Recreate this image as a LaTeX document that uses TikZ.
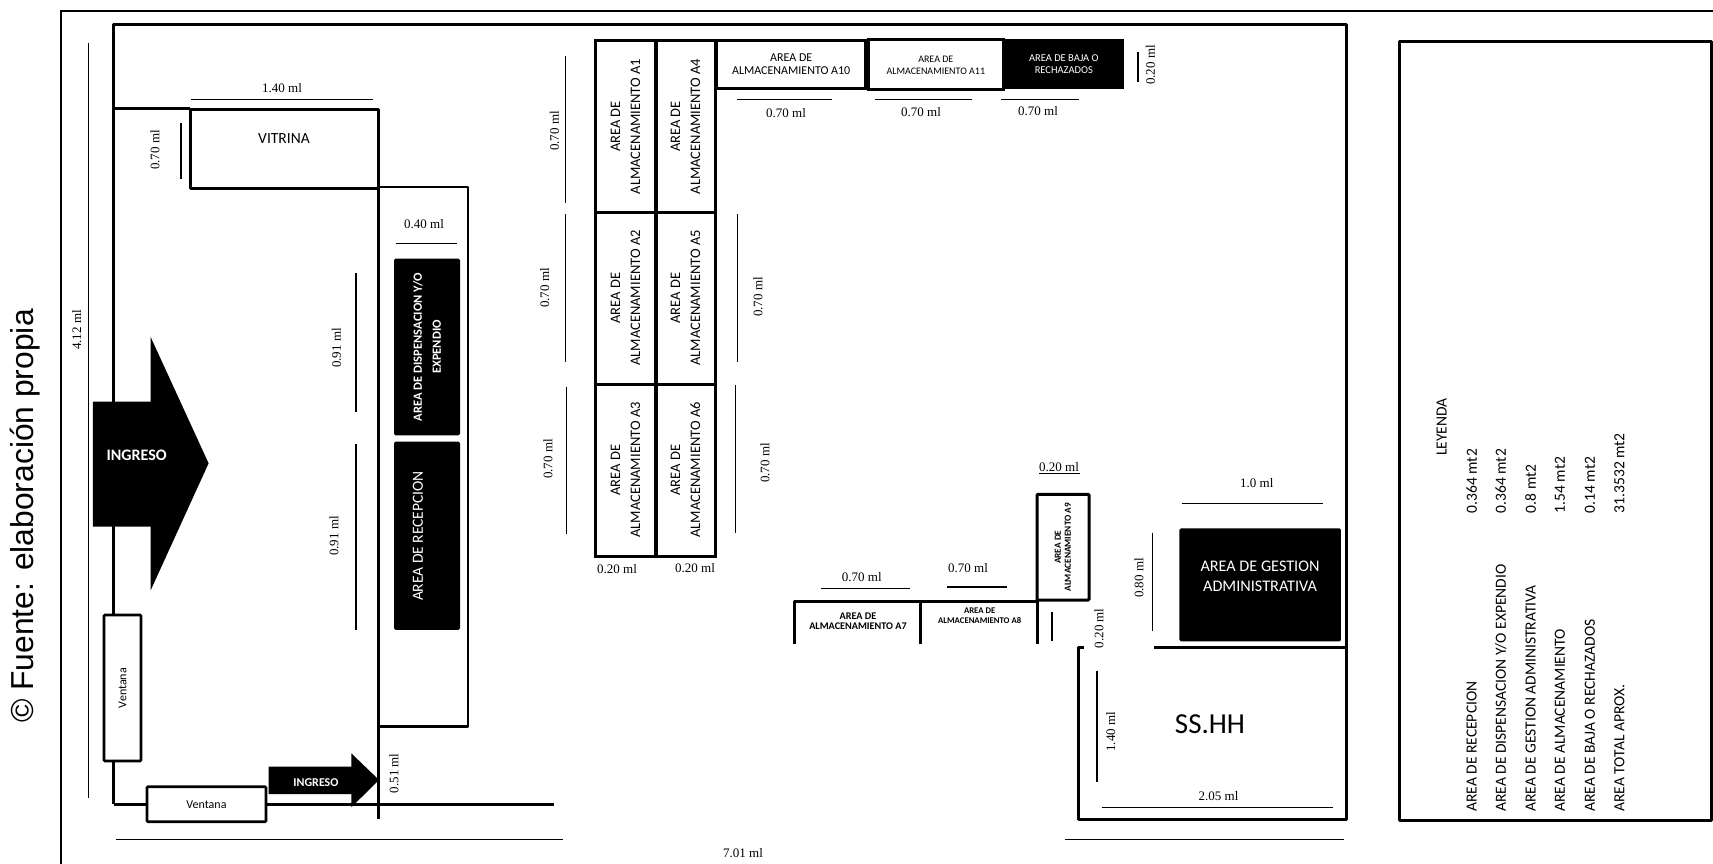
\documentclass[tikz,border=0pt]{standalone}
\usepackage{xcolor}
\usepackage{fontspec}
\setmainfont{Carlito}
\newfontfamily\sourcefont{Liberation Sans}
\newfontfamily\dimfont{Liberation Serif}
\usepackage{tikz}

\begin{document}
\begin{tikzpicture}[
    x=1pt, y=-1pt,
    every node/.style={align=center, inner sep=0pt},
    wall/.style={draw=black, line width=3pt, line join=round},
    thinwall/.style={draw=black, line width=2.8pt, line join=round},
    dimline/.style={draw=black, line width=1.2pt},
    dimtxt/.style={font=\dimfont\fontsize{13}{15}\selectfont},
    stock/.style={draw=black, fill=white, line width=3pt, rotate=90, font=\fontsize{14.5}{20}\selectfont},
    stockside/.style={draw=black, fill=white, line width=3pt, font=\fontsize{12}{12.5}\selectfont},
    blackbox/.style={fill=black, rounded corners=1.5pt, text=white},
    window/.style={draw=black, fill=white, line width=2.6pt, rounded corners=1pt, font=\fontsize{12}{14}\selectfont},
    legendtxt/.style={rotate=90, anchor=west, font=\fontsize{15.5}{17}\selectfont}
]
\useasboundingbox (0,0) rectangle (1713,864);

% Source note
\node[rotate=90, font=\sourcefont\fontsize{31.8}{34}\selectfont] (source) at (25,516) {© Fuente: elaboración propia};

% Outer frame and walls
\draw[line width=2pt] (61.4,864) -- (61.4,11) -- (1713,11);
\draw[wall] (113.6,804) -- (113.6,25) -- (1346,25) -- (1346,819.3) -- (1078.5,819.3) -- (1078.5,647) -- (1084,647);
\draw[wall] (113.6,108.7) -- (190,108.7);
\draw[wall] (190,109.7) -- (378,109.7) -- (378,819.3);
\draw[wall] (190,109.7) -- (190,188) -- (378,188);
\draw[thinwall] (378,187) -- (468,187) -- (468,726.7) -- (378,726.7);
\draw[wall] (113.6,804) -- (554,804);
\draw[wall] (1153.5,647) -- (1346,647);
\draw[wall] (794.5,644) -- (794.5,601) -- (1037,601) -- (1037,644);
\draw[wall] (920.4,601) -- (920.4,644);

% Vitrina and windows
\node (vitrina) at (284,138.7) {\fontsize{15.5}{18}\selectfont VITRINA};
\node[window, rotate=90, minimum width=146pt, minimum height=37pt] (ventanaleft) at (122.5,688) {Ventana};
\node[window, minimum width=119pt, minimum height=35pt] (ventanabottom) at (206.5,804.2) {Ventana};

% Entrance arrows
\fill (92.8,401.7) -- (150.5,401.7) -- (150.5,336.7) -- (208.6,463.3) -- (150.5,590.7) -- (150.5,526.7) -- (92.8,526.7) -- cycle;
\node[text=white, font=\bfseries\fontsize{16}{18}\selectfont] (ingresobig) at (136.6,455) {INGRESO};
\fill (268.7,766.7) -- (351.3,766.7) -- (351.3,753.3) -- (379,780) -- (351.3,807.3) -- (351.3,794) -- (268.7,794) -- cycle;
\node[text=white, font=\bfseries\fontsize{12}{14}\selectfont] (ingresosmall) at (316,782.7) {INGRESO};

% Dispensing and reception
\node[blackbox, rotate=90, minimum width=176.6pt, minimum height=66pt, font=\bfseries\fontsize{12.5}{19}\selectfont] (dispensacion) at (427,347) {AREA DE DISPENSACION Y/O\\EXPENDIO};
\node[blackbox, rotate=90, minimum width=188.3pt, minimum height=66pt] (recepcion) at (427,535.8) {};
\node[rotate=90, text=white, font=\fontsize{15.5}{18}\selectfont] (recepciontxt) at (418,536) {AREA DE RECEPCION};

% Storage grid
\node[stock, minimum width=171pt, minimum height=60pt] (a1) at (625.5,126.5) {AREA DE\\ALMACENAMIENTO A1};
\node[stock, minimum width=171pt, minimum height=59pt] (a4) at (685.5,126.5) {AREA DE\\ALMACENAMIENTO A4};
\node[stock, minimum width=172pt, minimum height=60pt] (a2) at (625.5,298) {AREA DE\\ALMACENAMIENTO A2};
\node[stock, minimum width=172pt, minimum height=59pt] (a5) at (685.5,298) {AREA DE\\ALMACENAMIENTO A5};
\node[stock, minimum width=172pt, minimum height=60pt] (a3) at (625.5,470) {AREA DE\\ALMACENAMIENTO A3};
\node[stock, minimum width=172pt, minimum height=59pt] (a6) at (685.5,470) {AREA DE\\ALMACENAMIENTO A6};

% Storage along the top
\node[stockside, minimum width=148.5pt, minimum height=48.3pt] (a10) at (791.2,64.2) {AREA DE\\ALMACENAMIENTO A10};
\node[stockside, minimum width=135.5pt, minimum height=50pt, font=\fontsize{10}{12}\selectfont] (a11) at (935.8,65) {AREA DE\\ALMACENAMIENTO A11};
\node[fill=black, text=white, minimum width=120.5pt, minimum height=50.3pt, font=\fontsize{10.5}{12}\selectfont] (baja) at (1063.8,64.2) {AREA DE BAJA O\\RECHAZADOS};

% Storage near the toilet
\node[draw=black, fill=white, line width=3pt, rounded corners=1pt, rotate=90, minimum width=105.7pt, minimum height=52pt, font=\bfseries\fontsize{9.3}{10}\selectfont] (a9) at (1063,547.2) {AREA DE\\ALMACENAMIENTO A9};
\node[font=\bfseries\fontsize{10.2}{10}\selectfont] (a7) at (858,621) {AREA DE\\ALMACENAMIENTO A7};
\node[font=\bfseries\fontsize{8.7}{10}\selectfont] (a8) at (979.7,616) {AREA DE\\ALMACENAMIENTO A8};

% Administration and toilet
\node[blackbox, minimum width=161.5pt, minimum height=113pt] (gestion) at (1260.2,584.8) {};
\node[text=white, font=\fontsize{16.2}{20}\selectfont] (gestiontxt) at (1260,576) {AREA DE GESTION\\ADMINISTRATIVA};
\node[font=\fontsize{29}{32}\selectfont] (sshh) at (1210,724) {SS.HH};

% Dimension lines
\draw[dimline] (88.7,42.7) -- (88.7,797.7);
\draw[dimline] (191.4,99.3) -- (373,99.3);
\draw[dimline] (181,123.3) -- (181,179.3);
\draw[dimline] (396.4,243.3) -- (457,243.3);
\draw[dimline] (356,273.3) -- (356,412.3);
\draw[dimline] (356,444.3) -- (356,630);
\draw[dimline] (115.6,839.3) -- (563.3,839.3);
\draw[dimline] (1064.7,839.3) -- (1344,839.3);
\draw[dimline] (565.5,56) -- (565.5,203.3);
\draw[dimline] (565.5,214) -- (565.5,361.7);
\draw[dimline] (566.7,386.7) -- (566.7,534);
\draw[dimline] (737.3,214) -- (737.3,361.7);
\draw[dimline] (735.7,385.3) -- (735.7,533.3);
\draw[dimline] (737,99.3) -- (832,99.3);
\draw[dimline] (875,99.3) -- (972,99.3);
\draw[dimline] (1001,99.3) -- (1079,99.3);
\draw[dimline] (1138,51.7) -- (1138,82.3);
\draw[dimline] (1039,473.4) -- (1080,473.4);
\draw[dimline] (820.5,588.7) -- (909.7,588.7);
\draw[dimline] (946.8,587) -- (1006.5,587);
\draw[dimline] (1052,611.7) -- (1052,641);
\draw[dimline] (1182,503.3) -- (1323,503.3);
\draw[dimline] (1152.3,532.7) -- (1152.3,631);
\draw[dimline] (1097,670.7) -- (1097,782.3);
\draw[dimline] (1101.8,807.7) -- (1332.6,807.7);

% Dimension labels
\node[dimtxt, rotate=90] (d412) at (76.8,330) {4.12 ml};
\node[dimtxt] (d140) at (282,88.3) {1.40 ml};
\node[dimtxt, rotate=90] (d70v) at (155,150) {0.70 ml};
\node[dimtxt] (d40) at (424,224.3) {0.40 ml};
\node[dimtxt, rotate=90] (d91a) at (336.4,348) {0.91 ml};
\node[dimtxt, rotate=90] (d91b) at (334,536) {0.91 ml};
\node[dimtxt, rotate=90] (d51) at (394,773.3) {0.51 ml};
\node[dimtxt] (d701) at (743,853) {7.01 ml};
\node[dimtxt, rotate=90] (d70a) at (554.5,131) {0.70 ml};
\node[dimtxt, rotate=90] (d70b) at (544.6,288) {0.70 ml};
\node[dimtxt, rotate=90] (d70c) at (548,459) {0.70 ml};
\node[dimtxt, rotate=90] (d70d) at (758,297) {0.70 ml};
\node[dimtxt, rotate=90] (d70e) at (765,463) {0.70 ml};
\node[dimtxt] (d20a) at (617,569) {0.20 ml};
\node[dimtxt] (d20b) at (695,568) {0.20 ml};
\node[dimtxt] (d70f) at (786,113) {0.70 ml};
\node[dimtxt] (d70g) at (921,112.3) {0.70 ml};
\node[dimtxt] (d70h) at (1038,110.7) {0.70 ml};
\node[dimtxt, rotate=90] (d20c) at (1150.4,65) {0.20 ml};
\node[dimtxt] (d20d) at (1059,467) {0.20 ml};
\node[dimtxt] (d70i) at (861.8,576.7) {0.70 ml};
\node[dimtxt] (d70j) at (968,568.3) {0.70 ml};
\node[dimtxt] (d10) at (1256.8,483.3) {1.0 ml};
\node[dimtxt, rotate=90] (d80) at (1139,578) {0.80 ml};
\node[dimtxt, rotate=90] (d20e) at (1099,628.3) {0.20 ml};
\node[dimtxt, rotate=90] (d140b) at (1110.6,731.7) {1.40 ml};
\node[dimtxt] (d205) at (1218.5,796) {2.05 ml};

% Legend
\draw[wall] (1711.5,41.5) -- (1399.3,41.5) -- (1399.3,820) -- (1711.5,820) -- cycle;
\node[legendtxt] (leyenda) at (1441.7,456) {LEYENDA};
\node[legendtxt] (l1) at (1471.7,811.7) {AREA DE RECEPCION};
\node[legendtxt] (l2) at (1500.7,811.7) {AREA DE DISPENSACION Y/O EXPENDIO};
\node[legendtxt] (l3) at (1530.7,811.7) {AREA DE GESTION ADMINISTRATIVA};
\node[legendtxt] (l4) at (1560,811.7) {AREA DE ALMACENAMIENTO};
\node[legendtxt] (l5) at (1590,811.7) {AREA DE BAJA O RECHAZADOS};
\node[legendtxt] (l6) at (1619.3,811.7) {AREA TOTAL APROX.};
\node[legendtxt] (v1) at (1471.7,513.3) {0.364 mt2};
\node[legendtxt] (v2) at (1500.7,513.3) {0.364 mt2};
\node[legendtxt] (v3) at (1530.7,513.3) {0.8 mt2};
\node[legendtxt] (v4) at (1560,513.3) {1.54 mt2};
\node[legendtxt] (v5) at (1590,513.3) {0.14 mt2};
\node[legendtxt] (v6) at (1619.3,513.3) {31.3532 mt2};

\end{tikzpicture}
\end{document}
